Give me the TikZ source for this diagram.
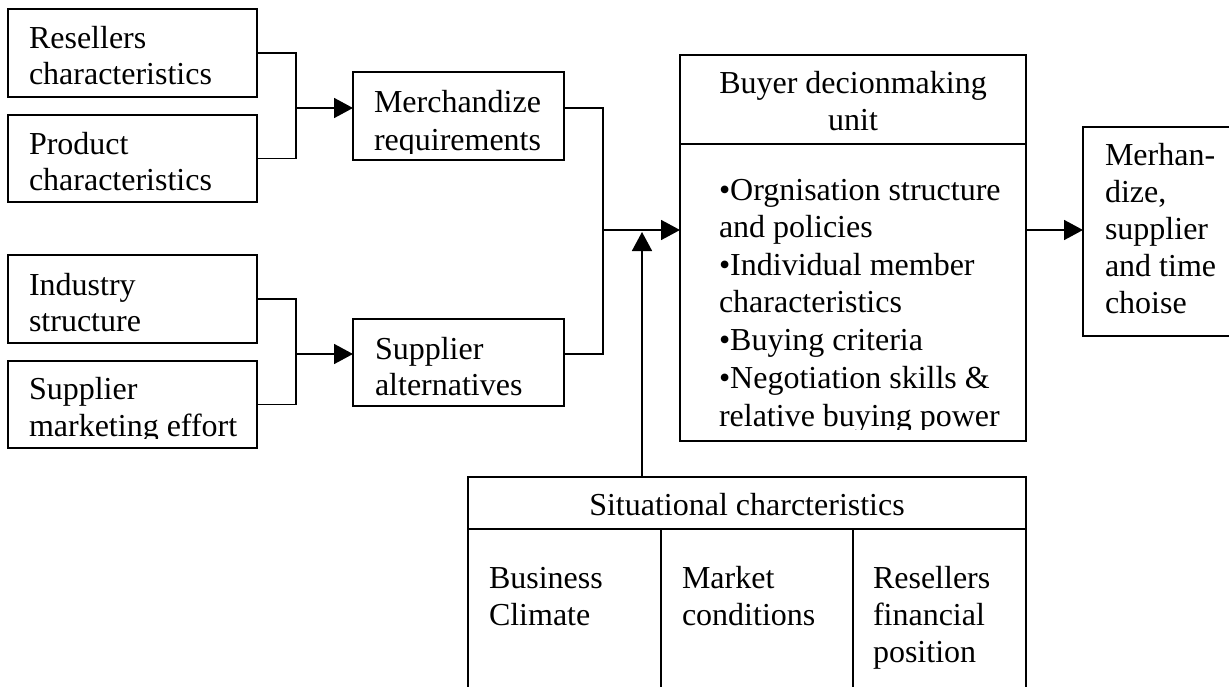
\documentclass[tikz,border=0pt]{standalone}
\usepackage{fontspec}
\setmainfont{Liberation Serif}
\usetikzlibrary{arrows.meta}
\begin{document}
\begin{tikzpicture}[x=1pt,y=-1pt,
  box/.style={draw, rectangle, line width=1.7pt, inner sep=0pt, outer sep=0pt, anchor=north west},
  lbl/.style={inner sep=0pt, outer sep=0pt, anchor=base west, font=\fontsize{32}{37}\selectfont},
  clbl/.style={lbl, anchor=base},
  link/.style={line width=1.7pt},
  flow/.style={link, -{Triangle[length=19pt,width=20pt]}}]
\clip (0,0) rectangle (1229,686);

% ---- input boxes, left column
\node[box, minimum width=249pt, minimum height=88pt] (res)  at (8,9)   {};
\node[box, minimum width=249pt, minimum height=87pt] (prod) at (8,115) {};
\node[box, minimum width=249pt, minimum height=88pt] (ind)  at (8,255) {};
\node[box, minimum width=249pt, minimum height=87pt] (sme)  at (8,361) {};

% ---- intermediate boxes
\node[box, minimum width=211pt, minimum height=88pt] (merch)  at (353,72)  {};
\node[box, minimum width=211pt, minimum height=87pt] (supalt) at (353,319) {};

% ---- buyer decision-making unit
\node[box, minimum width=346pt, minimum height=386pt] (buyer)     at (680,55) {};
\node[box, minimum width=346pt, minimum height=89pt]  (buyerhead) at (680,55) {};

% ---- outcome box (runs off the right edge)
\node[box, minimum width=180pt, minimum height=209pt] (out) at (1083,127) {};

% ---- situational characteristics table (runs off the bottom edge)
\node[box, minimum width=558pt, minimum height=240pt] (sit)     at (468,477) {};
\node[box, minimum width=558pt, minimum height=52pt]  (sithead) at (468,477) {};
\coordinate (col1) at (661,529);
\coordinate (col2) at (853,529);
\draw[link] (col1) -- (col1 |- sit.south);
\draw[link] (col2) -- (col2 |- sit.south);

% ---- connectors
\coordinate (j1) at (296,108);
\coordinate (j2) at (296,354);
\coordinate (j3) at (603,230);
\coordinate (up) at (642,232);
\draw[link] (res.east) -| (j1) |- (prod.east);
\draw[flow] (j1) -- (j1 -| merch.west);
\draw[link] (ind.east) -| (j2) |- (sme.east);
\draw[flow] (j2) -- (j2 -| supalt.west);
\draw[link] (merch.east |- j1) -| (j3) |- (supalt.east |- j2);
\draw[flow] (j3) -- (j3 -| buyer.west);
\draw[flow] (sit.north -| up) -- (up);
\draw[flow] (buyer.east |- j3) -- (j3 -| out.west);

% ---- texts
\node[lbl] (res1)  at (29,48)  {Resellers};
\node[lbl] (res2)  at (29,84)  {characteristics};
\node[lbl] (prod1) at (29,154) {Product};
\node[lbl] (prod2) at (29,190) {characteristics};
\node[lbl] (ind1)  at (29,295) {Industry};
\node[lbl] (ind2)  at (29,331) {structure};
\node[lbl] (sme1)  at (29,399) {Supplier};
\begin{scope}
  \clip (8,361) rectangle (257,438);
  \node[lbl] (sme2) at (29,436) {marketing effort};
\end{scope}

\node[lbl] (merch1) at (374,112) {Merchandize};
\begin{scope}
  \clip (353,72) rectangle (564,153);
  \node[lbl] (merch2) at (374,150) {requirements};
\end{scope}
\node[lbl] (sup1) at (375,359) {Supplier};
\node[lbl] (sup2) at (375,395) {alternatives};

\node[clbl] (bh1) at (853,93)  {Buyer decionmaking};
\node[clbl] (bh2) at (853,130) {unit};
\begin{scope}
  \clip (680,145) rectangle (1026,429);
  \node[lbl] (b1) at (719,200) {•Orgnisation structure};
  \node[lbl] (b2) at (719,237) {and policies};
  \node[lbl] (b3) at (719,275) {•Individual member};
  \node[lbl] (b4) at (719,312) {characteristics};
  \node[lbl] (b5) at (719,350) {•Buying criteria};
  \node[lbl] (b6) at (719,388) {•Negotiation skills \&};
  \node[lbl] (b7) at (719,426) {relative buying power};
\end{scope}

\node[lbl] (o1) at (1105,165) {Merhan-};
\node[lbl] (o2) at (1105,202) {dize,};
\node[lbl] (o3) at (1105,239) {supplier};
\node[lbl] (o4) at (1105,276) {and time};
\node[lbl] (o5) at (1105,313) {choise};

\node[clbl] (sh) at (747,515) {Situational charcteristics};
\node[lbl] (s1a) at (489,588) {Business};
\node[lbl] (s1b) at (489,625) {Climate};
\node[lbl] (s2a) at (682,588) {Market};
\node[lbl] (s2b) at (682,625) {conditions};
\node[lbl] (s3a) at (873,588) {Resellers};
\node[lbl] (s3b) at (873,625) {financial};
\node[lbl] (s3c) at (873,662) {position};
\end{tikzpicture}
\end{document}
